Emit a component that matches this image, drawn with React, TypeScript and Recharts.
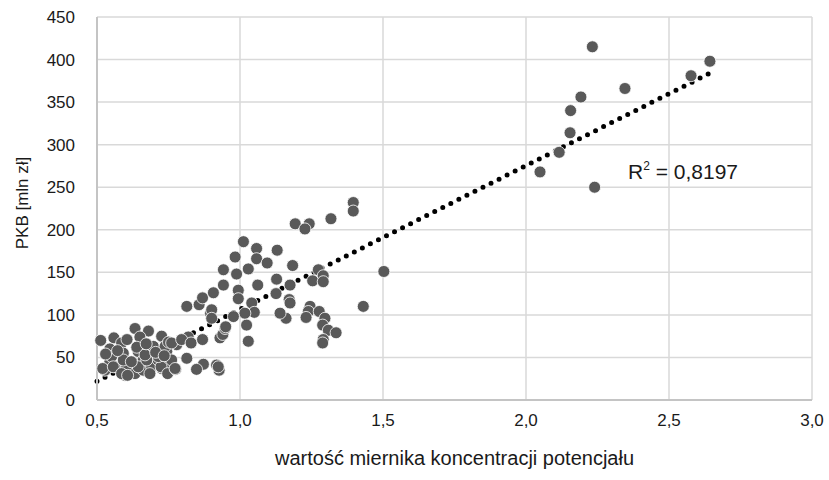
import {
  CartesianGrid,
  ReferenceLine,
  Scatter,
  ScatterChart,
  XAxis,
  YAxis,
} from "recharts";

// wartość miernika koncentracji potencjału (x) vs PKB [mln zł] (y)
const pointsX = [
  0.513, 0.559, 0.586, 0.633, 0.68, 0.726, 0.65, 0.545, 0.592, 0.644, 0.697, 0.691,
  0.744, 0.545, 0.528, 0.563, 0.604, 0.598, 0.633, 0.662, 0.691, 0.726, 0.755, 0.761,
  0.714, 0.662, 0.551, 0.639, 0.738, 0.779, 0.75, 0.819, 0.52, 0.557, 0.586, 0.607,
  0.644, 0.685, 0.724, 0.747, 0.775, 0.592, 0.674, 0.714, 0.761, 0.796, 0.814, 0.773,
  0.53, 0.572, 0.62, 0.668, 0.705, 0.735, 0.605, 0.672,
  0.829, 0.869, 0.93, 0.94, 0.948, 0.897, 0.872, 0.848, 0.918, 0.927, 0.924,
  0.814, 0.857, 0.869, 0.907, 0.901, 0.942, 0.988, 0.942, 0.994, 0.994, 0.983, 1.012,
  1.058, 1.058, 1.095, 1.029, 1.062, 1.041, 1.05, 1.023, 1.029, 1.017, 0.977, 0.901,
  0.95, 1.128, 1.13, 1.184, 1.193, 1.242, 1.227, 1.318, 1.396, 1.396, 1.274, 1.291,
  1.254, 1.291, 1.175, 1.503, 1.126, 1.172, 1.175, 1.161, 1.14, 1.245, 1.239, 1.231,
  1.277, 1.297, 1.289, 1.309, 1.336, 1.291, 1.289, 1.431,
  2.232, 2.643, 2.577, 2.346, 2.192, 2.156, 2.154, 2.116, 2.049, 2.24,
];
const pointsY = [
  70, 73, 67, 84, 81, 75, 74, 60, 55, 57, 63, 51,
  57, 45, 35, 39, 39, 29, 31, 35, 39, 37, 41, 47,
  47, 47, 51, 62, 63, 65, 68, 74, 37, 39, 31, 29,
  39, 31, 39, 31, 36, 47, 47, 51, 67, 71, 49, 37,
  54, 58, 45, 53, 56, 52, 71, 66,
  67, 71, 73, 77, 84, 102, 42, 36, 41, 35, 39,
  110, 112, 120, 126, 106, 153, 148, 135, 129, 119, 168, 186,
  178, 166, 161, 154, 135, 114, 103, 88, 69, 102, 98, 96,
  86, 142, 176, 158, 207, 207, 201, 213, 232, 222, 153, 146,
  140, 139, 135, 151, 125, 118, 114, 96, 102, 110, 104, 97,
  104, 96, 88, 82, 79, 71, 67, 110,
  415, 398, 381, 366, 356, 340, 314, 291, 268, 250,
];

// linear trend line end points
const trendX = [0.5, 2.643];
const trendY = [22, 384];
const rSquared = "0,8197";

const xTicks = [0.5, 1.0, 1.5, 2.0, 2.5, 3.0];
const yTicks = [0, 50, 100, 150, 200, 250, 300, 350, 400, 450];

const points = pointsX.map((x, i) => ({ x, y: pointsY[i] }));
const trend = trendX.map((x, i) => ({ x, y: trendY[i] }));

const FONT = '"Liberation Sans", Arial, sans-serif';

const Dot = (props: any) => (
  <circle cx={props.cx} cy={props.cy} r={6} fill="#595959" stroke="#ffffff" strokeWidth={0.8} />
);

const YTitle = () => (
  <text
    x={22}
    y={203}
    transform="rotate(-90 22 203)"
    textAnchor="middle"
    dominantBaseline="central"
    fontFamily={FONT}
    fontSize={17}
    fill="#1a1a1a"
  >
    PKB [mln zł]
  </text>
);

export default function App() {
  return (
    <div style={{ position: "relative", width: 829, height: 480 }}>
      <style>{"body{margin:0}"}</style>
      <ScatterChart width={829} height={480} margin={{ top: 17, right: 17, bottom: 0, left: 0 }}>
        <CartesianGrid stroke="#d9d9d9" strokeWidth={1.5} />
        <XAxis
          type="number"
          dataKey="x"
          domain={[0.5, 3]}
          ticks={xTicks}
          tickFormatter={(v: number) => v.toFixed(1).replace(".", ",")}
          height={80}
          axisLine={{ stroke: "#c4c4c4", strokeWidth: 2 }}
          tickLine={false}
          tickSize={12}
          tickMargin={2}
          tick={{ fontSize: 17, fontFamily: FONT, fill: "#1a1a1a" }}
          label={{
            value: "wartość miernika koncentracji potencjału",
            position: "insideBottom",
            offset: 15,
            fontSize: 20,
            fontFamily: FONT,
            fill: "#1a1a1a",
          }}
        />
        <YAxis
          type="number"
          dataKey="y"
          domain={[0, 450]}
          ticks={yTicks}
          width={97}
          axisLine={{ stroke: "#c4c4c4", strokeWidth: 2 }}
          tickLine={false}
          tickSize={20}
          tickMargin={2}
          tick={{ fontSize: 17, fontFamily: FONT, fill: "#1a1a1a" }}
          label={YTitle}
        />
        <Scatter data={points} shape={Dot} isAnimationActive={false} />
        <ReferenceLine
          segment={trend}
          stroke="#000000"
          strokeWidth={5}
          strokeDasharray="0 9"
          strokeLinecap="round"
          ifOverflow="visible"
        />
      </ScatterChart>
      <div
        style={{
          position: "absolute",
          left: 628,
          top: 161,
          fontFamily: FONT,
          fontSize: 21,
          lineHeight: 1,
          color: "#1a1a1a",
          whiteSpace: "nowrap",
        }}
      >
        R<span style={{ fontSize: 12, position: "relative", top: -9 }}>2</span> = {rSquared}
      </div>
    </div>
  );
}
